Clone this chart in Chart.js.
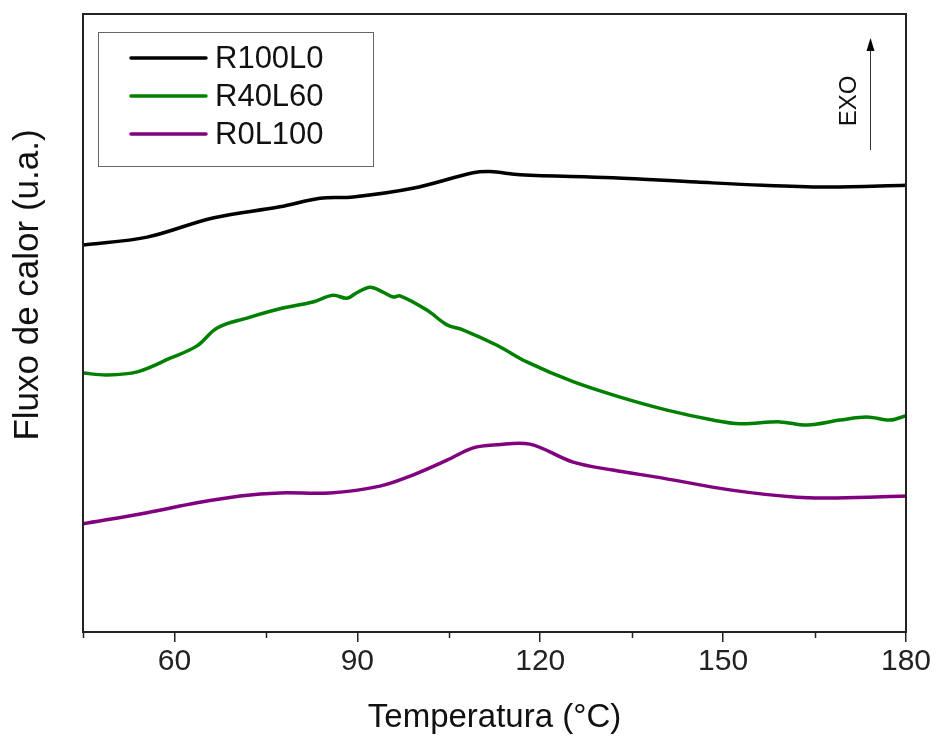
<!DOCTYPE html>
<html>
<head>
<meta charset="utf-8">
<script src="https://cdn.jsdelivr.net/npm/chart.js@4/dist/chart.umd.min.js"></script>
<style>
  html, body { margin: 0; padding: 0; background: #fff; }
  #wrap { width: 936px; height: 738px; }
</style>
</head>
<body>
<div id="wrap"><canvas id="chart"></canvas></div>
<script>
// --- dane (u.a. = jednostki umowne) ---
const tempR100L0 = [45, 55.5, 66.3, 77.3, 83.9, 89.3, 99.1, 109.0, 111.8, 116.7, 131.9, 145.7, 156.5, 167.5, 180];
const fluxR100L0 = [62.6, 63.9, 67.0, 68.8, 70.2, 70.4, 71.8, 74.3, 74.5, 74.0, 73.5, 72.8, 72.3, 72.0, 72.3];

const tempR40L60 = [45, 48.9, 53.9, 59.3, 63.7, 67.0, 71.9, 77.3, 82.7, 86.0, 88.3, 89.9, 92.1, 94.2, 95.9, 97.0,
                    101.4, 104.7, 107.3, 112.9, 117.8, 125.4, 133.1, 140.8, 148.3, 152.8, 159.3, 163.8, 169.2, 173.6, 177.4, 180];
const fluxR40L60 = [41.9, 41.6, 42.1, 44.3, 46.3, 49.2, 50.8, 52.3, 53.4, 54.5, 54.0, 54.9, 55.8, 55.0, 54.2, 54.4,
                    52.1, 49.7, 48.9, 46.4, 43.7, 40.5, 38.0, 35.9, 34.3, 33.7, 34.0, 33.5, 34.3, 34.8, 34.3, 35.0];

const tempR0L100 = [45, 55.5, 63.7, 70.8, 77.3, 85.5, 93.7, 99.1, 104.7, 109.0, 112.9, 118.3, 125.4, 131.9, 140.1, 151.1, 162.1, 168.7, 180];
const fluxR0L100 = [17.5, 19.3, 20.9, 22.0, 22.5, 22.5, 23.6, 25.4, 27.8, 29.8, 30.3, 30.4, 27.5, 26.2, 24.9, 23.0, 21.8, 21.7, 22.0];

const seriesNames = ['R100L0', 'R40L60', 'R0L100'];
const seriesColors = ['#000000', '#008000', '#800080'];
const majorTicks = [60, 90, 120, 150, 180];
const minorTicks = [45, 75, 105, 135, 165];

const FONT = '"Liberation Sans", Arial, sans-serif';

function toPoints(xs, ys) {
    return xs.map((x, i) => ({ x: x, y: ys[i] }));
}

// ramka, drobne podziałki, legenda, strzałka EXO, opis osi Y
const decorPlugin = {
    id: 'decor',
    afterDraw(chart) {
        const ctx = chart.ctx;
        const a = chart.chartArea;
        const xs = chart.scales.x;
        ctx.save();

        // ramka wykresu
        ctx.strokeStyle = '#222';
        ctx.lineWidth = 2;
        ctx.strokeRect(a.left, a.top, a.right - a.left, a.bottom - a.top);

        // drobne podziałki
        ctx.lineWidth = 1.5;
        minorTicks.forEach(v => {
            const px = Math.round(xs.getPixelForValue(v)) + 0.5;
            ctx.beginPath();
            ctx.moveTo(px, a.bottom);
            ctx.lineTo(px, a.bottom + 6);
            ctx.stroke();
        });

        // legenda
        ctx.strokeStyle = '#666';
        ctx.lineWidth = 1;
        ctx.strokeRect(98.5, 32.5, 275, 134);
        ctx.font = '31px ' + FONT;
        ctx.textBaseline = 'middle';
        ctx.textAlign = 'left';
        seriesNames.forEach((name, i) => {
            const y = 58 + i * 38;
            ctx.strokeStyle = seriesColors[i];
            ctx.lineWidth = 3.5;
            ctx.lineCap = 'round';
            ctx.beginPath();
            ctx.moveTo(131, y);
            ctx.lineTo(206, y);
            ctx.stroke();
            ctx.fillStyle = '#111';
            ctx.fillText(name, 215, y + 1);
        });

        // strzałka EXO
        ctx.strokeStyle = '#333';
        ctx.lineWidth = 1;
        ctx.lineCap = 'butt';
        ctx.beginPath();
        ctx.moveTo(870.5, 150);
        ctx.lineTo(870.5, 48);
        ctx.stroke();
        ctx.fillStyle = '#000';
        ctx.beginPath();
        ctx.moveTo(870.5, 38);
        ctx.lineTo(866.5, 51);
        ctx.lineTo(874.5, 51);
        ctx.closePath();
        ctx.fill();
        ctx.save();
        ctx.translate(849, 101);
        ctx.rotate(-Math.PI / 2);
        ctx.textAlign = 'center';
        ctx.font = '24px ' + FONT;
        ctx.fillStyle = '#111';
        ctx.fillText('EXO', 0, 0);
        ctx.restore();

        // opis osi Y
        ctx.save();
        ctx.translate(28, 285);
        ctx.rotate(-Math.PI / 2);
        ctx.textAlign = 'center';
        ctx.font = '35px ' + FONT;
        ctx.fillStyle = '#111';
        ctx.fillText('Fluxo de calor (u.a.)', 0, 0);
        ctx.restore();

        ctx.restore();
    }
};

const datasets = [
    toPoints(tempR100L0, fluxR100L0),
    toPoints(tempR40L60, fluxR40L60),
    toPoints(tempR0L100, fluxR0L100)
].map((pts, i) => ({
    label: seriesNames[i],
    data: pts,
    borderColor: seriesColors[i],
    borderWidth: 3.5,
    pointRadius: 0,
    tension: 0.35,
    fill: false
}));

new Chart(document.getElementById('chart'), {
    type: 'line',
    data: { datasets: datasets },
    plugins: [decorPlugin],
    options: {
        responsive: true,
        maintainAspectRatio: false,
        animation: false,
        layout: { padding: { left: 0, top: 14, right: 30, bottom: 0 } },
        plugins: { legend: { display: false }, tooltip: { enabled: false } },
        scales: {
            x: {
                type: 'linear',
                min: 45,
                max: 180,
                afterBuildTicks: (scale) => { scale.ticks = majorTicks.map(v => ({ value: v })); },
                afterFit: (scale) => { scale.height = 106; },
                grid: { drawOnChartArea: false, tickLength: 10, color: '#222', lineWidth: 1.5 },
                border: { display: false },
                ticks: {
                    color: '#222',
                    padding: 2,
                    maxRotation: 0,
                    font: { family: FONT, size: 30 }
                },
                title: {
                    display: true,
                    text: 'Temperatura (°C)',
                    color: '#111',
                    font: { family: FONT, size: 33 },
                    padding: { top: 10, bottom: 0 }
                }
            },
            y: {
                min: 0,
                max: 100,
                afterFit: (scale) => { scale.width = 83; },
                grid: { display: false },
                border: { display: false },
                ticks: { display: false }
            }
        }
    }
});
</script>
</body>
</html>
